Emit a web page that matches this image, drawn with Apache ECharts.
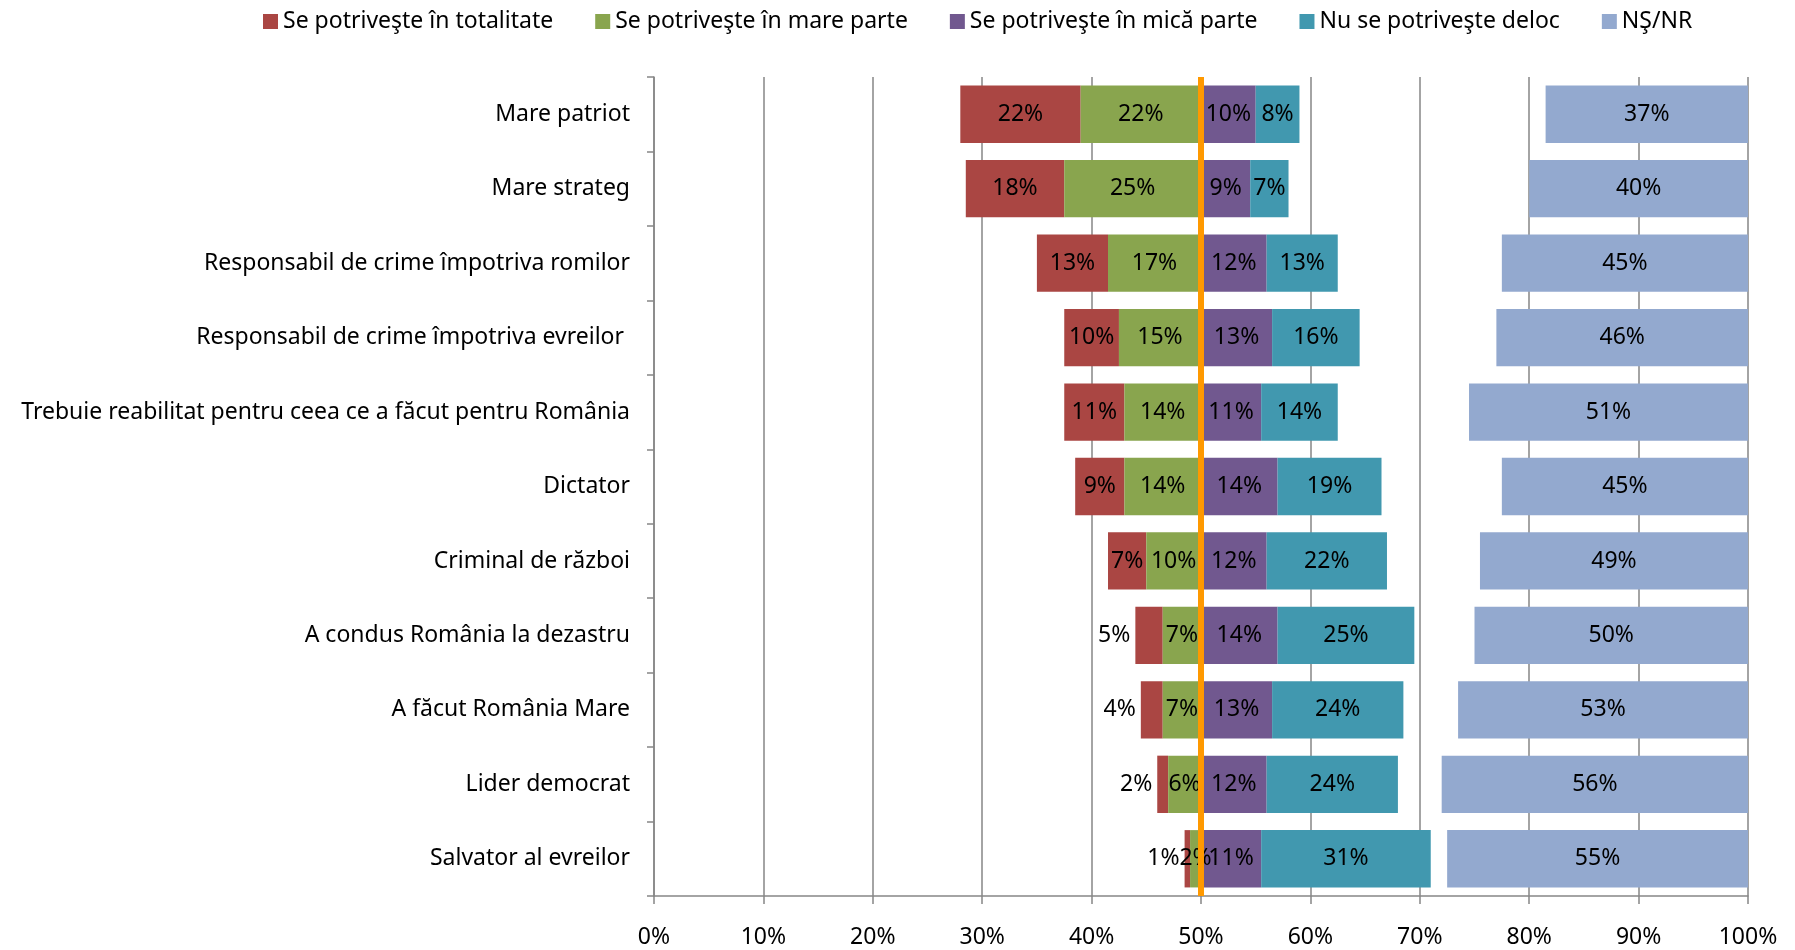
<!DOCTYPE html>
<html>
<head>
<meta charset="utf-8">
<script src="https://cdn.jsdelivr.net/npm/echarts@6/dist/echarts.min.js"></script>
<style>
  html, body { margin: 0; padding: 0; background: #fff; }
  #chart { width: 1795px; height: 950px; }
</style>
</head>
<body>
<div id="chart"></div>
<script>
const categories = [
  'Mare patriot',
  'Mare strateg',
  'Responsabil de crime împotriva romilor',
  'Responsabil de crime împotriva evreilor ',
  'Trebuie reabilitat pentru ceea ce a făcut pentru România',
  'Dictator',
  'Criminal de război',
  'A condus România la dezastru',
  'A făcut România Mare',
  'Lider democrat',
  'Salvator al evreilor'
]
const totalitate = [22, 18, 13, 10, 11, 9, 7, 5, 4, 2, 1]
const marePart = [22, 25, 17, 15, 14, 14, 10, 7, 7, 6, 2]
const micaPart = [10, 9, 12, 13, 11, 14, 12, 14, 13, 12, 11]
const deloc = [8, 7, 13, 16, 14, 19, 22, 25, 24, 24, 31]
const nsnr = [37, 40, 45, 46, 51, 45, 49, 50, 53, 56, 55]
const tickLabels = ['0%', '10%', '20%', '30%', '40%', '50%', '60%', '70%', '80%', '90%', '100%']

const legendNames = [
  'Se potriveşte în totalitate',
  'Se potriveşte în mare parte',
  'Se potriveşte în mică parte',
  'Nu se potriveşte deloc',
  'NŞ/NR'
]
const colors = ['#AA4643', '#89A54E', '#71588F', '#4198AF', '#93A9CF']

// axis runs 0..200, centre (100) is the 50% mark; each label shows half
const offset = totalitate.map((v, i) => 100 - v - marePart[i])
const gap = nsnr.map((v, i) => 100 - micaPart[i] - deloc[i] - v)

const font = '"Noto Sans", "Open Sans", sans-serif'
const fs = 23

const labelStyle = {
  show: true,
  color: '#000',
  fontFamily: font,
  fontSize: fs,
  formatter: (p) => p.value + '%'
}

const mkSeries = (name, data, color, label) => ({
  name,
  type: 'bar',
  stack: 'total',
  barCategoryGap: '23%',
  data,
  itemStyle: { color },
  label: label || labelStyle
})

const chart = echarts.init(document.getElementById('chart'))

const option = {
  animation: false,
  textStyle: { fontFamily: font },
  legend: {
    data: legendNames,
    left: 258,
    top: 5,
    icon: 'rect',
    itemWidth: 15,
    itemHeight: 15,
    itemGap: 42,
    textStyle: { color: '#000', fontFamily: font, fontSize: fs }
  },
  grid: { left: 654, right: 47, top: 77, bottom: 54 },
  xAxis: {
    type: 'value',
    min: 0,
    max: 200,
    interval: 20,
    axisLine: { show: true, lineStyle: { color: '#868686', width: 1.5 } },
    axisTick: { show: true, length: 8, lineStyle: { color: '#868686', width: 1.5 } },
    splitLine: { show: true, lineStyle: { color: '#868686', width: 1.5 } },
    axisLabel: {
      color: '#000',
      fontFamily: font,
      fontSize: fs,
      margin: 30,
      formatter: (v) => tickLabels[v / 20]
    }
  },
  yAxis: {
    type: 'category',
    inverse: true,
    data: categories,
    axisLine: { show: true, lineStyle: { color: '#868686', width: 1.5 } },
    axisTick: { show: true, length: 7, lineStyle: { color: '#868686', width: 1.5 } },
    axisLabel: { color: '#000', fontFamily: font, fontSize: fs, margin: 24 }
  },
  series: [
    {
      name: 'offset',
      type: 'bar',
      stack: 'total',
      barCategoryGap: '23%',
      data: offset,
      itemStyle: { color: 'transparent' },
      silent: true,
      markLine: {
        silent: true,
        symbol: 'none',
        label: { show: false },
        lineStyle: { color: '#FF9900', width: 6, type: 'solid' },
        data: [{ xAxis: 100 }]
      }
    },
    mkSeries(legendNames[0], totalitate.map((v) => ({
      value: v,
      label: { position: v <= 5 ? 'left' : 'inside' }
    })), colors[0]),
    mkSeries(legendNames[1], marePart, colors[1]),
    mkSeries(legendNames[2], micaPart, colors[2]),
    mkSeries(legendNames[3], deloc, colors[3]),
    {
      name: 'gap',
      type: 'bar',
      stack: 'total',
      data: gap,
      itemStyle: { color: 'transparent' },
      silent: true
    },
    mkSeries(legendNames[4], nsnr, colors[4])
  ]
}

chart.setOption(option)
</script>
</body>
</html>
